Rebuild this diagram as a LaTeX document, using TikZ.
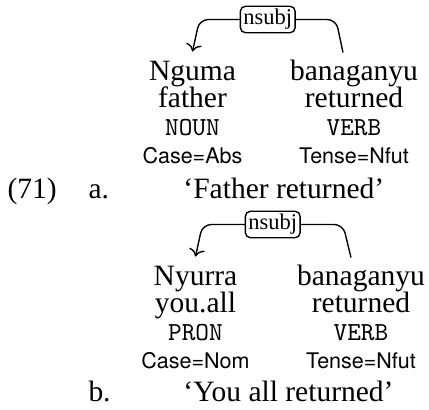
\documentclass[tikz,border=0pt]{standalone}
\usepackage{fontspec}
\setmainfont{Liberation Serif}
\setsansfont{TeX Gyre Heros}
\usetikzlibrary{calc,arrows.meta}
\newcommand\wordsize{\fontsize{11.8}{14}\selectfont}
\begin{document}
\begin{tikzpicture}[x=0.4pt, y=-0.4pt,
    word/.style={anchor=base, inner xsep=0pt, inner ysep=4pt, text height=7.2pt, font=\wordsize},
    gloss/.style={anchor=base, inner sep=0pt, font=\wordsize},
    postag/.style={anchor=base, inner sep=0pt, font=\fontsize{10.4}{12}\ttfamily},
    feat/.style={anchor=base, inner sep=0pt, font=\fontsize{8.6}{10}\sffamily},
    transl/.style={anchor=base west, inner sep=0pt, font=\wordsize},
    deparc/.style={-{To[length=3pt]}, line width=0.55pt, rounded corners=3.5pt},
    deplabel/.style={draw, fill=white, rounded corners=2pt, inner xsep=1.2pt, inner ysep=1.2pt, line width=0.55pt, font=\fontsize{9}{10}\selectfont}]
    \useasboundingbox (0,0) rectangle (429,409);
    % Ejemplo a
    \node[word] (nounA) at (192.5,80) {Nguma};
    \node[gloss] (nounAg) at (192.5,107) {father};
    \node[postag] (nounAp) at (192.5,135) {NOUN};
    \node[feat] (nounAf) at (192.5,163) {Case=Abs};
    \node[word] (verbA) at (354,80) {banaganyu};
    \node[gloss] (verbAg) at (354,107) {returned};
    \node[postag] (verbAp) at (354,135) {VERB};
    \node[feat] (verbAf) at (354,163) {Tense=Nfut};
    \node[transl] (num) at (7,198) {(71)};
    \node[transl] (itemA) at (88,198) {a.};
    \node[transl] (transA) at (183,198) {‘Father returned’};
    % Arco a
    \draw[deparc] ($(verbA.north)+(-11,1)$) -- ($(verbA.north)+(-18,-32)$)
        -- node[deplabel] (labA) {nsubj} ($(nounA.north)+(7,-32)$) -- (nounA.north);
    % Ejemplo b
    \node[word] (pronB) at (195.5,285) {Nyurra};
    \node[gloss] (pronBg) at (195.5,312) {you.all};
    \node[postag] (pronBp) at (195.5,340) {PRON};
    \node[feat] (pronBf) at (195.5,368) {Case=Nom};
    \node[word] (verbB) at (361,285) {banaganyu};
    \node[gloss] (verbBg) at (361,312) {returned};
    \node[postag] (verbBp) at (361,340) {VERB};
    \node[feat] (verbBf) at (361,368) {Tense=Nfut};
    \node[transl] (itemB) at (88,401) {b.};
    \node[transl] (transB) at (183,401) {‘You all returned’};
    % Arco b
    \draw[deparc] ($(verbB.north)+(-10,1)$) -- ($(verbB.north)+(-18,-32)$)
        -- node[deplabel] (labB) {nsubj} ($(pronB.north)+(7,-32)$) -- (pronB.north);
\end{tikzpicture}
\end{document}
